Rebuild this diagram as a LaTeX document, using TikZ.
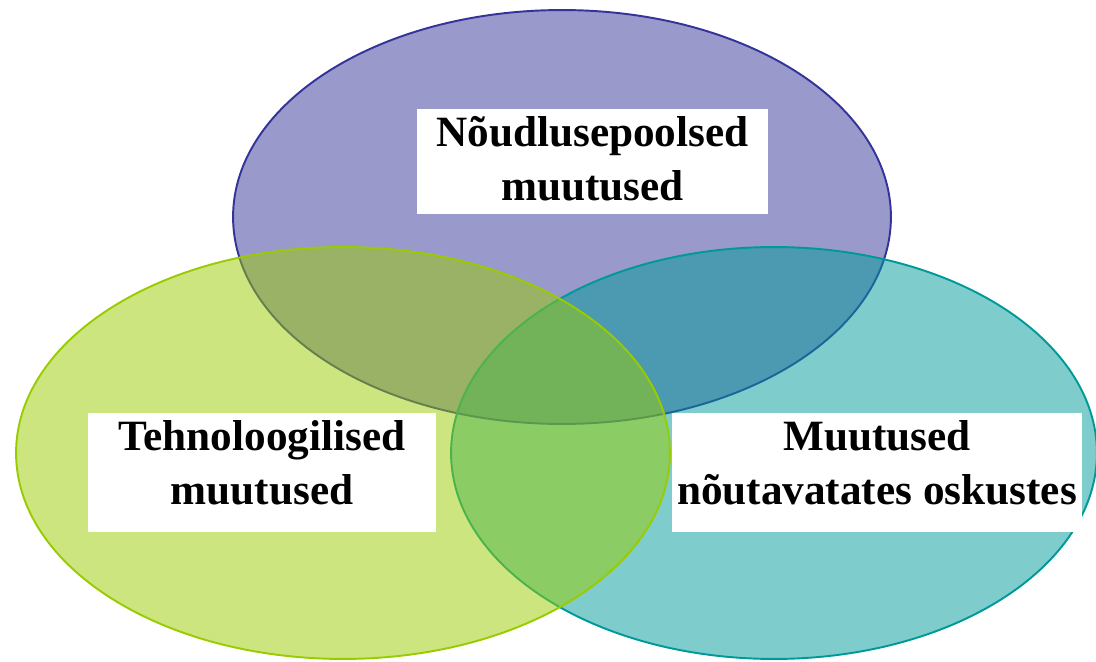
\documentclass[tikz,border=0pt]{standalone}
\usepackage{fontspec}
\setmainfont{Liberation Serif}
\usepackage{tikz}
\usetikzlibrary{shapes.geometric}
\definecolor{demand}{HTML}{333399}
\definecolor{tech}{HTML}{99CC00}
\definecolor{skill}{HTML}{009999}
\tikzstyle{circ} = [ellipse, inner sep=0pt, line width=1.1pt, fill opacity=0.5, draw opacity=1]
\tikzstyle{labelbox} = [rectangle, fill=white, inner sep=0pt, minimum height=2.1cm]
\tikzstyle{labeltext} = [align=center, text centered, inner sep=0pt, font=\fontsize{24.6}{30.6}\selectfont\bfseries]

\begin{document}
\begin{tikzpicture}[x=0.02cm, y=-0.02cm]
	\useasboundingbox (0,0) rectangle (1096,662);
	\node (demand) [circ, draw=demand, fill=demand, minimum width=13.16cm, minimum height=8.28cm] at (562,217) {};
	\node (skill) [circ, draw=skill, fill=skill, minimum width=12.92cm, minimum height=8.24cm] at (774,453) {};
	\node (tech) [circ, draw=tech, fill=tech, minimum width=13.08cm, minimum height=8.24cm] at (343,453) {};
	
	\node (demandbox) [labelbox, minimum width=7.02cm] at (592.5,161.5) {};
	\node (techbox) [labelbox, minimum width=6.96cm, minimum height=2.38cm] at (262,472.5) {};
	\node (skillbox) [labelbox, minimum width=8.2cm, minimum height=2.38cm] at (877,472.5) {};
	
	\node (demandtext) [labeltext] at ([yshift=0.06cm]demandbox.center) {Nõudlusepoolsed\\muutused};
	\node (techtext) [labeltext] at ([yshift=0.2cm]techbox.center) {Tehnoloogilised\\muutused};
	\node (skilltext) [labeltext] at ([yshift=0.2cm]skillbox.center) {Muutused\\nõutavatates oskustes};
\end{tikzpicture}
\end{document}
